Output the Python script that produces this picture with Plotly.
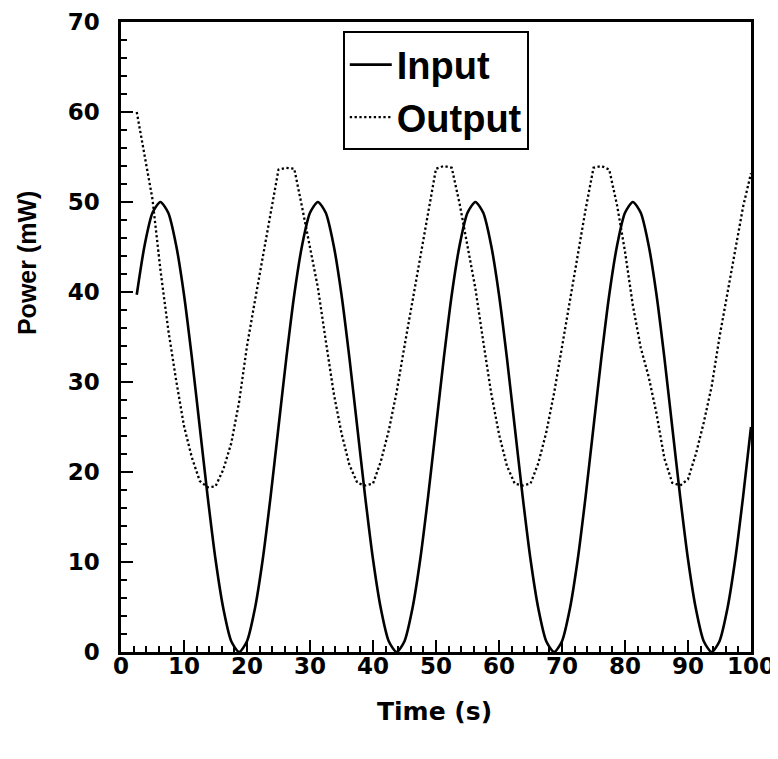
import plotly.graph_objects as go

time_s = [2.5, 3.75, 5, 6.25, 7.5, 8.75, 10, 11.25, 12.5, 13.75, 15, 16.25, 17.5, 18.75,
          20, 21.25, 22.5, 23.75, 25, 26.25, 27.5, 28.75, 30, 31.25, 32.5, 33.75, 35, 36.25,
          37.5, 38.75, 40, 41.25, 42.5, 43.75, 45, 46.25, 47.5, 48.75, 50, 51.25, 52.5, 53.75,
          55, 56.25, 57.5, 58.75, 60, 61.25, 62.5, 63.75, 65, 66.25, 67.5, 68.75, 70, 71.25,
          72.5, 73.75, 75, 76.25, 77.5, 78.75, 80, 81.25, 82.5, 83.75, 85, 86.25, 87.5, 88.75,
          90, 91.25, 92.5, 93.75, 95, 96.25, 97.5, 98.75, 100]

input_mw = [39.7, 45.2, 48.8, 50.0, 48.8, 45.2, 39.7, 32.7, 25.0, 17.3, 10.3, 4.8, 1.2, 0.0, 1.2, 4.8, 10.3, 17.3, 25.0, 32.7,
            39.7, 45.2, 48.8, 50.0, 48.8, 45.2, 39.7, 32.7, 25.0, 17.3, 10.3, 4.8, 1.2, 0.0, 1.2, 4.8, 10.3, 17.3, 25.0, 32.7,
            39.7, 45.2, 48.8, 50.0, 48.8, 45.2, 39.7, 32.7, 25.0, 17.3, 10.3, 4.8, 1.2, 0.0, 1.2, 4.8, 10.3, 17.3, 25.0, 32.7,
            39.7, 45.2, 48.8, 50.0, 48.8, 45.2, 39.7, 32.7, 25.0, 17.3, 10.3, 4.8, 1.2, 0.0, 1.2, 4.8, 10.3, 17.3, 25.0]

output_mw = [60.0, 55.0, 50.3, 42.5, 35.8, 30.2, 25.1, 21.6, 19.0, 18.3, 18.4, 20.3, 23.2, 27.8, 34.0, 39.0, 44.0, 49.0,
             53.6, 53.8, 53.7, 49.4, 45.0, 40.5, 34.6, 28.8, 24.3, 20.8, 18.8, 18.5, 18.7, 21.2, 24.6, 28.9, 34.0, 39.0, 44.0, 49.0,
             53.7, 54.0, 53.8, 49.8, 45.2, 40.4, 34.5, 28.8, 24.2, 20.7, 18.7, 18.5, 18.7, 21.0, 24.4, 28.8, 33.9, 39.1, 44.2, 49.2,
             53.8, 54.0, 53.6, 49.6, 44.5, 38.5, 33.8, 30.6, 26.5, 21.5, 18.8, 18.5, 19.2, 22.0, 25.5, 29.5, 35.0, 39.8, 44.5, 49.5,
             53.2]

x_ticks = [0, 10, 20, 30, 40, 50, 60, 70, 80, 90, 100]
y_ticks = [0, 10, 20, 30, 40, 50, 60, 70]

fig = go.Figure()
fig.add_trace(go.Scatter(x=time_s, y=input_mw, mode="lines", name="Input",
                         line=dict(color="black", width=2.6, shape="spline", smoothing=0.7)))
fig.add_trace(go.Scatter(x=time_s, y=output_mw, mode="lines", name="Output",
                         line=dict(color="black", width=2.3, dash="2.3px,2.5px")))

tickfont = dict(family="DejaVu Sans", size=23, color="black", weight="bold")
axis_common = dict(showgrid=False, zeroline=False, showline=True, linecolor="black",
                   linewidth=2.5, mirror=True, ticks="inside", ticklen=12, tickwidth=2,
                   tickcolor="black", tickfont=tickfont, automargin=False)

fig.update_xaxes(range=[0, 100], tickvals=x_ticks, ticklabelstandoff=-8,
                 minor=dict(dtick=2, ticks="inside", ticklen=6, tickwidth=2, tickcolor="black"),
                 **axis_common)
fig.update_yaxes(range=[0, 70], tickvals=y_ticks, ticklabelstandoff=14,
                 minor=dict(dtick=2, ticks="inside", ticklen=6, tickwidth=2, tickcolor="black"),
                 **axis_common)

fig.add_annotation(text="Time (s)", xref="paper", yref="paper", x=0.497, y=-0.095,
                   xanchor="center", yanchor="middle", showarrow=False,
                   font=dict(family="DejaVu Sans", size=25, color="black", weight="bold"))
fig.add_annotation(text="Power (mW)", xref="paper", yref="paper", x=-0.148, y=0.617,
                   xanchor="center", yanchor="middle", showarrow=False, textangle=-90,
                   font=dict(family="Liberation Sans", size=25, color="black", weight="bold"))

fig.update_layout(
    width=770, height=751,
    margin=dict(l=113, r=27, t=14, b=107, autoexpand=False),
    paper_bgcolor="white", plot_bgcolor="white",
    showlegend=True,
    legend=dict(x=0.352, y=0.985, xanchor="left", yanchor="top",
                bordercolor="black", borderwidth=2, bgcolor="white",
                font=dict(family="Liberation Sans", size=38, color="black", weight="bold"),
                itemwidth=42),
)

fig.write_html("out.html")
